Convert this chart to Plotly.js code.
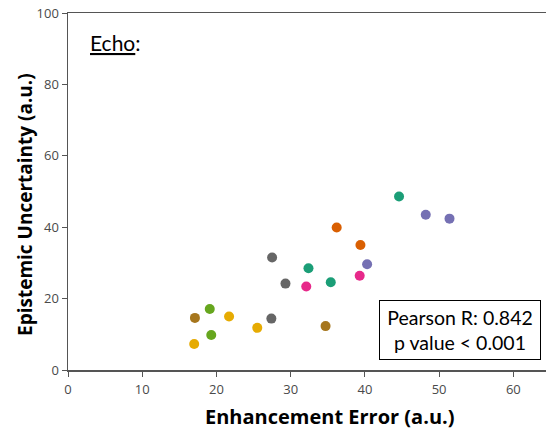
<!DOCTYPE html>
<html>
<head>
<meta charset="utf-8">
<script src="https://cdn.plot.ly/plotly-3.0.1.min.js"></script>
<style>
  html, body { margin: 0; padding: 0; background: #ffffff; }
  #chart { width: 546px; height: 432px; }
</style>
</head>
<body>
<div id="chart"></div>
<script>
// Enhancement error vs epistemic uncertainty per case (Echo)
const enhancementError = [44.6, 48.2, 51.4, 36.2, 39.4, 40.3, 39.3, 27.5, 32.4, 29.3, 32.1, 35.4,
                          19.1, 17.1, 21.7, 27.4, 25.5, 34.7, 19.3, 17.0];
const epistemicUncert  = [48.6, 43.5, 42.4, 39.9, 35.0, 29.6, 26.4, 31.5, 28.5, 24.2, 23.4, 24.6,
                          17.1, 14.6, 15.0, 14.4, 11.8, 12.3, 9.8, 7.3];
// group index of each point (Dark2 colour)
const groupIdx = [0, 2, 2, 1, 1, 2, 3, 7, 0, 7, 3, 0,
                  4, 6, 5, 7, 5, 6, 4, 5];
const dark2 = ['#1b9e77', '#d95f02', '#7570b3', '#e7298a', '#66a61e', '#e6ab02', '#a6761d', '#666666'];

const xTicks = [0, 10, 20, 30, 40, 50, 60];
const yTicks = [0, 20, 40, 60, 80, 100];

const xTitle = 'Enhancement Error (a.u.)';
const yTitle = 'Epistemic Uncertainty (a.u.)';
const pearsonR = 0.842;
const pLabel = 'p value < 0.001';

const trace = {
  type: 'scatter',
  mode: 'markers',
  x: enhancementError,
  y: epistemicUncert,
  marker: {
    size: 10,
    color: groupIdx.map(i => dark2[i]),
    line: { width: 0 }
  },
  hoverinfo: 'skip'
};

const tickFont = { family: 'Open Sans, sans-serif', size: 13, color: '#4a4a4a' };
const titleFont = { family: 'Open Sans, sans-serif', size: 20, color: '#000000', weight: 'bold' };

const layout = {
  width: 546,
  height: 432,
  margin: { l: 68, r: 0, t: 13, b: 62 },
  paper_bgcolor: '#ffffff',
  plot_bgcolor: '#ffffff',
  showlegend: false,
  xaxis: {
    range: [0, 64.4],
    tickvals: xTicks,
    ticktext: xTicks.map(String),
    ticks: 'outside', ticklen: 5, tickwidth: 1, tickcolor: '#555555',
    ticklabelstandoff: 2,
    showgrid: false, zeroline: false,
    showline: true, linecolor: '#555555', linewidth: 1.5, mirror: true,
    tickfont: tickFont
  },
  yaxis: {
    range: [0, 100],
    tickvals: yTicks,
    ticktext: yTicks.map(String),
    ticks: 'outside', ticklen: 5, tickwidth: 1, tickcolor: '#555555',
    showgrid: false, zeroline: false,
    showline: true, linecolor: '#555555', linewidth: 1.5,
    tickfont: tickFont
  },
  annotations: [
    {
      xref: 'paper', yref: 'paper',
      x: 0.042, y: 0.916, xanchor: 'left', yanchor: 'middle',
      text: '<u>Echo</u>:', showarrow: false,
      font: { family: 'Lato, Open Sans, sans-serif', size: 21, color: '#000000' }
    },
    {
      xref: 'x', yref: 'y',
      x: 52.8, y: 11.2, xanchor: 'center', yanchor: 'middle',
      text: 'Pearson R: ' + pearsonR.toFixed(3) + '<br>' + pLabel.replace('<', '&lt;'),
      showarrow: false, align: 'center', width: 150,
      bordercolor: '#000000', borderwidth: 1, borderpad: 5,
      bgcolor: '#ffffff',
      font: { family: 'Lato, Open Sans, sans-serif', size: 19.5, color: '#000000' }
    },
    {
      // x-axis title
      xref: 'paper', yref: 'paper',
      x: 0.548, y: -0.129, xanchor: 'center', yanchor: 'middle',
      text: '<b>' + xTitle + '</b>', showarrow: false,
      font: titleFont
    },
    {
      // y-axis title
      xref: 'paper', yref: 'paper',
      x: -0.090, y: 0.465, xanchor: 'center', yanchor: 'middle',
      text: '<b>' + yTitle + '</b>', showarrow: false, textangle: -90,
      font: Object.assign({}, titleFont, { size: 19 })
    }
  ]
};

Plotly.newPlot('chart', [trace], layout, { displayModeBar: false, staticPlot: true });
</script>
</body>
</html>
